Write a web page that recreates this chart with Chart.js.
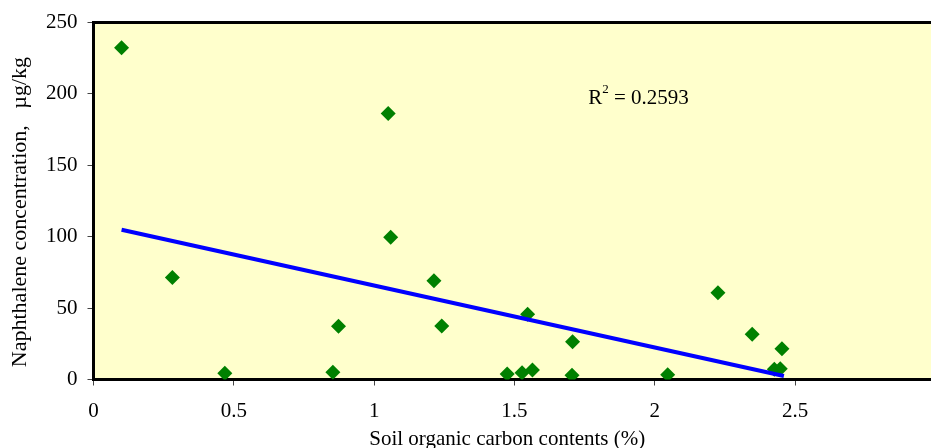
<!DOCTYPE html>
<html>
<head>
<meta charset="utf-8">
<script src="https://cdn.jsdelivr.net/npm/chart.js@4/dist/chart.umd.min.js"></script>
<style>
  html, body { margin: 0; padding: 0; background: #ffffff; overflow: hidden; }
  #wrap { width: 939px; height: 448px; position: relative; }
</style>
</head>
<body>
<div id="wrap"><canvas id="c"></canvas></div>
<script>
// Soil organic carbon contents (%)
const carbonX = [0.100, 0.281, 0.468, 0.853, 0.873, 1.050, 1.059, 1.213, 1.241, 1.474, 1.527,
                 1.547, 1.564, 1.707, 1.705, 2.046, 2.225, 2.347, 2.426, 2.447, 2.453];
// Naphthalene concentration (µg/kg)
const naphY = [232.4, 71.5, 4.3, 5.0, 37.3, 186.3, 99.6, 69.2, 37.5, 3.8, 4.7,
               45.7, 6.6, 26.4, 2.9, 3.3, 60.8, 31.7, 7.1, 7.5, 21.5];
// Linear trend line end points
const trendX = [0.10, 2.46];
const trendY = [104.9, 2.4];
const r2Text = "0.2593";
const r2Anchor = { x: 1.763, y: 197 };

const xTicks = [0, 0.5, 1, 1.5, 2, 2.5];
const yTicks = [0, 50, 100, 150, 200, 250];

const points = carbonX.map((x, i) => ({ x: x, y: naphY[i] }));
const trend = trendX.map((x, i) => ({ x: x, y: trendY[i] }));

const SERIF = "'Liberation Serif', 'Times New Roman', serif";

const framePlugin = {
  id: 'frame',
  beforeDraw(chart) {
    const { ctx, chartArea: a } = chart;
    ctx.save();
    ctx.fillStyle = '#FFFFCC';
    ctx.fillRect(a.left, a.top, a.right - a.left, a.bottom - a.top);
    ctx.restore();
  },
  afterDraw(chart) {
    const { ctx, chartArea: a, scales } = chart;
    ctx.save();
    ctx.strokeStyle = '#000';
    ctx.lineWidth = 3;
    ctx.beginPath();
    ctx.moveTo(a.left - 1.5, a.top);
    ctx.lineTo(a.right, a.top);
    ctx.stroke();
    // R^2 label
    const px = scales.x.getPixelForValue(r2Anchor.x);
    const py = scales.y.getPixelForValue(r2Anchor.y);
    ctx.fillStyle = '#000';
    ctx.textBaseline = 'middle';
    ctx.textAlign = 'left';
    ctx.font = "21px " + SERIF;
    ctx.fillText('R', px, py);
    const rw = ctx.measureText('R').width;
    ctx.font = "13px " + SERIF;
    ctx.fillText('2', px + rw, py - 9);
    const sw = ctx.measureText('2').width;
    ctx.font = "21px " + SERIF;
    ctx.fillText(' = ' + r2Text, px + rw + sw, py);
    ctx.restore();
  }
};

new Chart(document.getElementById('c'), {
  type: 'scatter',
  data: {
    datasets: [
      {
        type: 'line',
        data: trend,
        borderColor: '#0000FF',
        borderWidth: 4,
        pointRadius: 0,
        fill: false,
        order: 0
      },
      {
        data: points,
        pointStyle: 'rectRot',
        pointRadius: 7.5,
        pointHoverRadius: 7.5,
        pointBackgroundColor: '#008000',
        pointBorderColor: '#008000',
        pointBorderWidth: 0,
        order: 1
      }
    ]
  },
  plugins: [framePlugin],
  options: {
    responsive: true,
    maintainAspectRatio: false,
    animation: false,
    layout: { padding: { top: 21, right: 0, bottom: 0, left: 0 } },
    plugins: { legend: { display: false }, tooltip: { enabled: false } },
    scales: {
      x: {
        type: 'linear',
        min: 0,
        max: 2.986,
        afterBuildTicks(scale) { scale.ticks = xTicks.map(v => ({ value: v })); },
        afterFit(scale) { scale.height = 68.5; scale.paddingRight = 0; scale.paddingLeft = 0; },
        ticks: {
          stepSize: 0.5,
          includeBounds: false,
          color: '#000',
          padding: 13,
          font: { family: SERIF, size: 21 },
          callback: (v) => String(v)
        },
        grid: { drawOnChartArea: false, drawTicks: true, tickLength: 6, tickColor: '#444', lineWidth: 1 },
        border: { display: true, color: '#000', width: 3 },
        title: {
          display: true,
          text: 'Soil organic carbon contents (%)  ',
          color: '#000',
          font: { family: SERIF, size: 21 },
          padding: { top: 0, bottom: -4 }
        }
      },
      y: {
        type: 'linear',
        min: 0,
        max: 250,
        afterBuildTicks(scale) { scale.ticks = yTicks.map(v => ({ value: v })); },
        afterFit(scale) { scale.width = 93.5; },
        ticks: {
          color: '#000',
          padding: 10,
          font: { family: SERIF, size: 21 },
          callback: (v) => String(v)
        },
        grid: { drawOnChartArea: false, drawTicks: true, tickLength: 6, tickColor: '#444', lineWidth: 1 },
        border: { display: true, color: '#000', width: 3 },
        title: {
          display: true,
          text: 'Naphthalene concentration,   µg/kg    ',
          color: '#000',
          font: { family: SERIF, size: 22 },
          padding: { top: 7, bottom: 0 }
        }
      }
    }
  }
});
</script>
</body>
</html>
